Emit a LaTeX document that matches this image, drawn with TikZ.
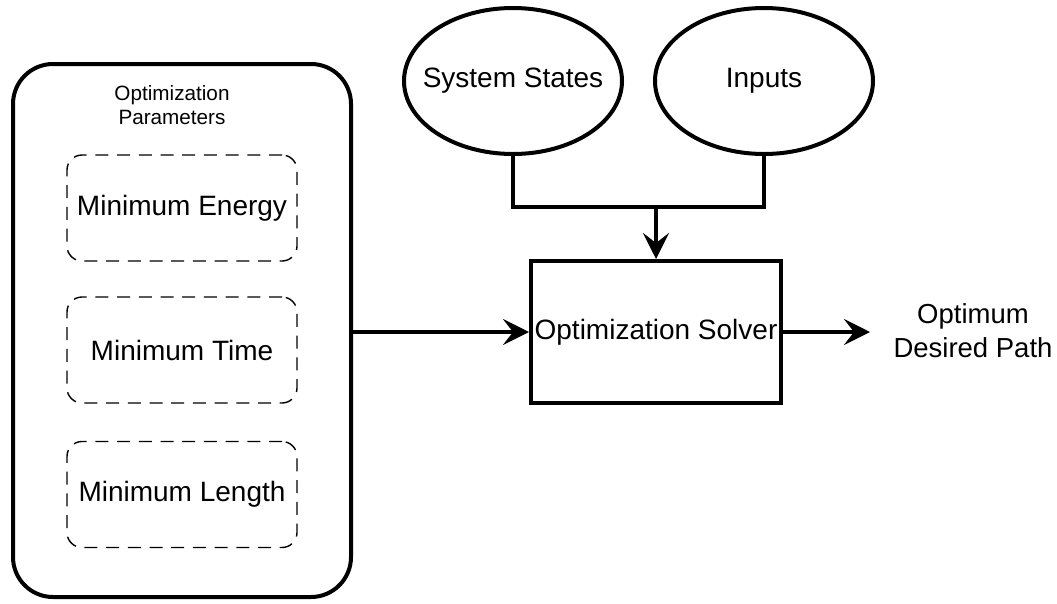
\documentclass[tikz,border=0pt]{standalone}
\usepackage{fontspec}
\setmainfont{Liberation Sans}
\usetikzlibrary{shapes.geometric,arrows.meta}

\begin{document}
\begin{tikzpicture}[x=1pt,y=-1pt,
  bold/.style={line width=4pt},
  bigfont/.style={font=\fontsize{28}{33}\selectfont},
  smallfont/.style={font=\fontsize{20.7}{24}\selectfont},
  outer/.style={bold, draw, rounded corners=40pt, minimum width=338pt, minimum height=533pt, inner sep=0pt},
  choice/.style={draw, dash pattern=on 13pt off 8.7pt, line width=1.4pt, rounded corners=15pt,
                 minimum width=230pt, minimum height=106pt, inner sep=0pt, bigfont},
  source/.style={bold, draw, ellipse, minimum width=218pt, minimum height=146pt, inner sep=0pt, bigfont},
  solverbox/.style={bold, draw, rectangle, minimum width=250pt, minimum height=142pt, inner sep=0pt, bigfont},
  flow/.style={bold, line join=miter},
  arrowflow/.style={flow, -{Stealth[length=26pt, width=26pt, inset=10pt]}}
]
\useasboundingbox (0,0) rectangle (1057,603);

% optimisation parameters group
\node[outer] (params) at (182,330.5) {};
\node[smallfont, align=center] (paramtitle) at (172,105) {Optimization\\Parameters};
\node[choice] (energy) at (182,208) {Minimum Energy};
\node[choice] (time)   at (182,350) {Minimum Time};
\node[choice] (length) at (182,494.5) {Minimum Length};

% inputs to the solver
\node[source] (states) at (513,81) {\makebox[0pt]{System States}};
\node[source] (inputs) at (764,81) {\makebox[0pt]{Inputs}};

% solver and its output
\node[solverbox] (solver) at (656,332) {Optimization Solver};
\node[font=\fontsize{27.5}{34}\selectfont, align=center] (output) at (973,331) {Optimum\\Desired Path};
\coordinate (merge) at (656,207);
\coordinate (outend) at (870,332);

% connectors
\draw[flow] (states.south) |- (merge) -| (inputs.south);
\draw[arrowflow] (merge) -- (solver.north);
\draw[arrowflow] (solver.west -| params.east) -- (solver.west);
\draw[arrowflow] (solver.east) -- (outend);
\end{tikzpicture}
\end{document}
